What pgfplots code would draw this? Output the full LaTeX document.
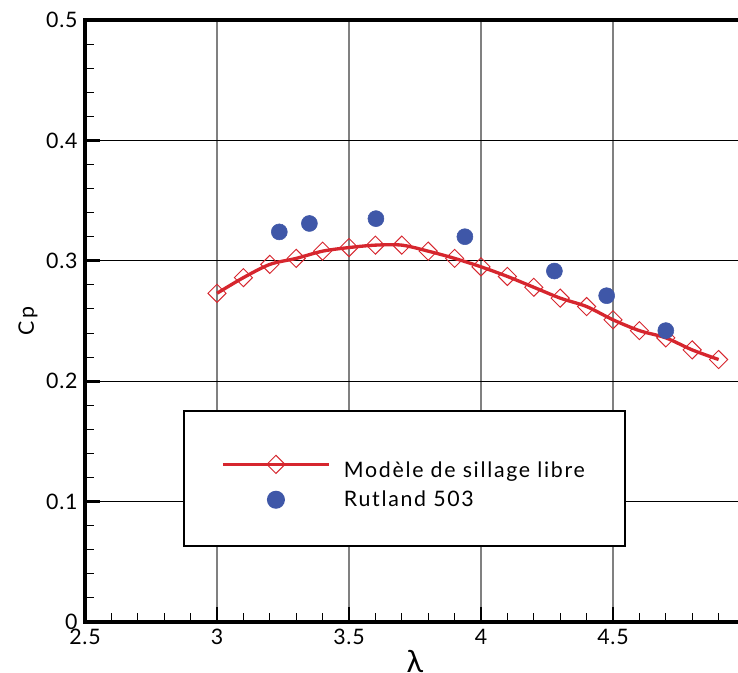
\documentclass[border=0pt]{standalone}
\usepackage{fontspec}
\setmainfont{Lato}
\usepackage{pgfplots}
\pgfplotsset{compat=1.18}
\definecolor{redC}{HTML}{D6262E}
\definecolor{blueC}{HTML}{3F57A8}
\begin{document}
\fontsize{16}{19}\selectfont
\begin{tikzpicture}
\begin{axis}[
  scale only axis, width=495pt, height=451.5pt,
  xmin=2.5, xmax=5, ymin=0, ymax=0.5,
  xtick={2.5,3,3.5,4,4.5,5}, ytick={0,0.1,0.2,0.3,0.4,0.5},
  xticklabels={2.5,3,3.5,4,4.5,5},
  yticklabels={0,0.1,0.2,0.3,0.4,0.5},
  minor x tick num=4, minor y tick num=4,
  tick align=inside, tick pos=left,
  major tick length=11pt, minor tick length=7pt,
  major tick style={line width=2pt, black},
  minor tick style={line width=0.8pt, black},
  axis line style={line width=2.5pt},
  grid=major,
  x grid style={gray, line width=1.5pt},
  y grid style={black, line width=0.8pt},
  ticklabel style={font=\fontsize{16}{19}\selectfont\addfontfeatures{LetterSpace=4}},
  /pgf/number format/assume math mode=true,
  xlabel={\fontsize{23}{26}\selectfont λ}, ylabel={\addfontfeatures{LetterSpace=15}Cp},
  every axis x label/.style={at={(axis description cs:0.5,-0.066)}, anchor=center},
  every axis y label/.style={at={(axis description cs:-0.0864,0.5)}, rotate=90, anchor=center},
  legend image code/.code={\draw[mark repeat=2, mark phase=2, #1] plot coordinates {(0pt,0pt) (39.75pt,0pt) (79.5pt,0pt)};},
  legend style={at={(axis cs:3.710,0.1192)}, anchor=center, draw=black, line width=1.5pt,
    inner xsep=28pt, inner ysep=25.5pt, fill=white,
    font=\fontsize{16}{19}\selectfont\addfontfeatures{LetterSpace=8},
    row sep=3pt, cells={anchor=west},
    /tikz/every odd column/.append style={column sep=8pt}},
]
\addplot[redC, line width=2.5pt, smooth, mark=square, mark size=4.8pt,
  mark options={rotate=45, line width=0.7pt, draw=redC, fill=none}]
coordinates {
(3.0,0.273) (3.1,0.286) (3.2,0.297) (3.3,0.302) (3.4,0.308) (3.5,0.311)
(3.6,0.313) (3.7,0.313) (3.8,0.308) (3.9,0.302) (4.0,0.295) (4.1,0.287)
(4.2,0.278) (4.3,0.269) (4.4,0.262) (4.5,0.251) (4.6,0.242) (4.7,0.236)
(4.8,0.226) (4.9,0.218)
};
\addlegendentry{\rule{0pt}{22.5pt}Modèle de sillage libre}
\addplot[only marks, mark=*, mark size=6pt, blueC, mark options={draw=blueC, fill=blueC}]
coordinates {
(3.236,0.324) (3.350,0.331) (3.602,0.335) (3.939,0.320)
(4.278,0.2915) (4.476,0.271) (4.700,0.242)
};
\addlegendentry{Rutland 503}
\end{axis}
\pgfresetboundingbox
\path[use as bounding box] ([shift={(-63.75pt,-38.25pt)}]current axis.south west) rectangle ([shift={(489.75pt,466.5pt)}]current axis.south west);
\end{tikzpicture}
\end{document}
